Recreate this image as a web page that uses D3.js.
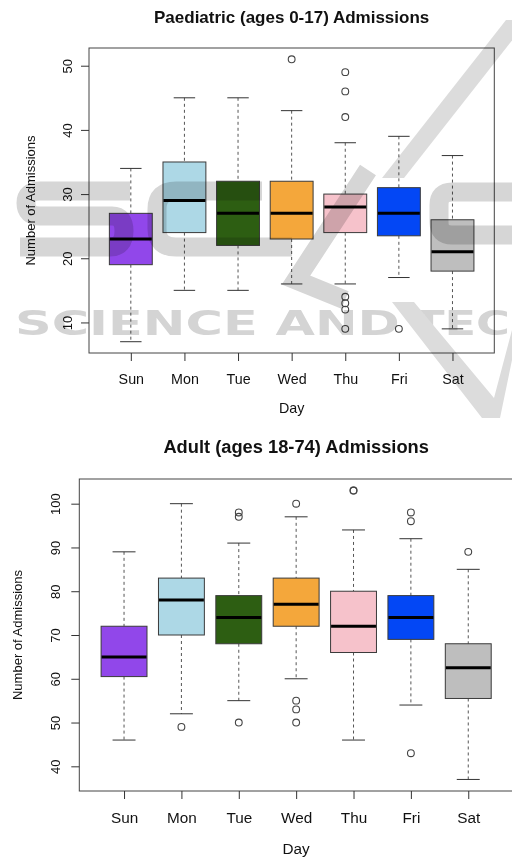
<!DOCTYPE html>
<html>
<head>
<meta charset="utf-8">
<script src="https://cdn.jsdelivr.net/npm/d3@7"></script>
<style>
  html, body { margin: 0; padding: 0; background: #fff; }
  svg { display: block; font-family: "Liberation Sans", Arial, sans-serif; }
  .wm { mix-blend-mode: multiply; }
</style>
</head>
<body>
<div id="chart"></div>
<script>
// days of the week, same for both panels
const days = ["Sun", "Mon", "Tue", "Wed", "Thu", "Fri", "Sat"];
const boxColors = ["#9147ea", "#add8e6", "#2d5e12", "#f4a73b", "#f6c2cb", "#0347f5", "#bebebe"];

// Paediatric (ages 0-17)
const paedLow    = [7, 15, 15, 16, 16, 17, 9];
const paedQ1     = [19, 24, 22, 23, 24, 23.5, 18];
const paedMedian = [23, 29, 27, 27, 28, 27, 21];
const paedQ3     = [27, 35, 32, 32, 30, 31, 26];
const paedHigh   = [34, 45, 45, 43, 38, 39, 36];
const paedOutliers = [[], [], [], [51], [49, 46, 42, 14, 13, 12, 9], [9], []];
const paedTicks  = [10, 20, 30, 40, 50];

// Adult (ages 18-74)
const adultLow    = [46, 52, 55, 60, 46, 54, 37];
const adultQ1     = [60.5, 70, 68, 72, 66, 69, 55.5];
const adultMedian = [65, 78, 74, 77, 72, 74, 62.5];
const adultQ3     = [72, 83, 79, 83, 80, 79, 68];
const adultHigh   = [89, 100, 91, 97, 94, 92, 85];
const adultOutliers = [[], [49], [98, 97, 50], [100, 55, 53, 50], [103, 103], [98, 96, 43], [89]];
const adultTicks  = [40, 50, 60, 70, 80, 90, 100];

const W = 512, H = 857;

const svg = d3.select("#chart").append("svg")
  .attr("width", W)
  .attr("height", H);

function drawPanel(opt) {
  const g = svg.append("g");
  const n = days.length;

  // R style: 4% padding around data range
  const allVals = opt.low.concat(opt.high, ...opt.outliers);
  const lo = d3.min(allVals), hi = d3.max(allVals);
  const pad = (hi - lo) * 0.04;
  const y = d3.scaleLinear().domain([lo - pad, hi + pad]).range([opt.bottom, opt.top]);
  const xpad = n * 0.04 + 0.5;
  const x = d3.scaleLinear().domain([1 - xpad, n + xpad]).range([opt.left, opt.right]);
  const unit = x(2) - x(1);
  const bw = unit * 0.8;

  // title
  g.append("text")
    .attr("x", (opt.left + opt.right) / 2)
    .attr("y", opt.titleY)
    .attr("text-anchor", "middle")
    .attr("font-weight", "bold")
    .attr("font-size", opt.titleSize)
    .attr("fill", "#111")
    .text(opt.title);

  const items = days.map((d, i) => ({
    day: d, i: i + 1, low: opt.low[i], q1: opt.q1[i], med: opt.median[i],
    q3: opt.q3[i], high: opt.high[i], out: opt.outliers[i], color: boxColors[i]
  }));

  const box = g.selectAll("g.box").data(items).join("g").attr("class", "box");

  // whiskers (dashed)
  box.append("line")
    .attr("x1", d => x(d.i)).attr("x2", d => x(d.i))
    .attr("y1", d => y(d.high)).attr("y2", d => y(d.q3))
    .attr("stroke", "#555").attr("stroke-dasharray", "3,3");
  box.append("line")
    .attr("x1", d => x(d.i)).attr("x2", d => x(d.i))
    .attr("y1", d => y(d.q1)).attr("y2", d => y(d.low))
    .attr("stroke", "#555").attr("stroke-dasharray", "3,3");
  // staples
  box.selectAll("line.staple").data(d => [d.high, d.low].map(v => ({v, i: d.i})))
    .join("line").attr("class", "staple")
    .attr("x1", d => x(d.i) - bw / 4).attr("x2", d => x(d.i) + bw / 4)
    .attr("y1", d => y(d.v)).attr("y2", d => y(d.v))
    .attr("stroke", "#333");
  // boxes
  box.append("rect")
    .attr("x", d => x(d.i) - bw / 2)
    .attr("width", bw)
    .attr("y", d => y(d.q3))
    .attr("height", d => y(d.q1) - y(d.q3))
    .attr("fill", d => d.color)
    .attr("stroke", "#3a3a3a");
  // medians
  box.append("line")
    .attr("x1", d => x(d.i) - bw / 2 + 0.5).attr("x2", d => x(d.i) + bw / 2 - 0.5)
    .attr("y1", d => y(d.med)).attr("y2", d => y(d.med))
    .attr("stroke", "#000").attr("stroke-width", 3);
  // outliers
  box.selectAll("circle").data(d => d.out.map(v => ({v, i: d.i})))
    .join("circle")
    .attr("cx", d => x(d.i)).attr("cy", d => y(d.v))
    .attr("r", 3.4)
    .attr("fill", "none").attr("stroke", "#444").attr("stroke-width", 1.1);

  // plot frame
  g.append("rect")
    .attr("x", opt.left).attr("y", opt.top)
    .attr("width", opt.right - opt.left).attr("height", opt.bottom - opt.top)
    .attr("fill", "none").attr("stroke", "#444");

  // axes
  const yAxis = g.append("g")
    .attr("transform", `translate(${opt.left},0)`)
    .call(d3.axisLeft(y).tickValues(opt.ticks).tickSize(8).tickSizeOuter(0).tickFormat(d3.format("d")));
  yAxis.select(".domain").remove();
  yAxis.selectAll(".tick line").attr("stroke", "#333");
  yAxis.selectAll(".tick text")
    .attr("x", 0).attr("y", 0).attr("dy", 0)
    .attr("transform", d => `translate(${opt.yTickX - opt.left},0) rotate(-90)`)
    .attr("text-anchor", "middle")
    .attr("font-size", opt.yTickSize)
    .attr("font-family", "Liberation Sans, Arial, sans-serif")
    .attr("fill", "#111");

  const xAxis = g.append("g")
    .attr("transform", `translate(0,${opt.bottom})`)
    .call(d3.axisBottom(x).tickValues(d3.range(1, n + 1)).tickSize(8).tickSizeOuter(0).tickFormat(i => days[i - 1]));
  xAxis.select(".domain").remove();
  xAxis.selectAll(".tick line").attr("stroke", "#333");
  xAxis.selectAll(".tick text")
    .attr("y", opt.xTickY - opt.bottom).attr("dy", 0)
    .attr("font-size", opt.xTickSize)
    .attr("font-family", "Liberation Sans, Arial, sans-serif")
    .attr("fill", "#111");

  // axis titles
  g.append("text")
    .attr("x", (opt.left + opt.right) / 2)
    .attr("y", opt.xLabelY)
    .attr("text-anchor", "middle")
    .attr("font-size", opt.xTickSize)
    .attr("fill", "#111")
    .text("Day");
  g.append("text")
    .attr("transform", `translate(${opt.yLabelX},${(opt.top + opt.bottom) / 2}) rotate(-90)`)
    .attr("text-anchor", "middle")
    .attr("font-size", opt.yLabelSize)
    .attr("fill", "#111")
    .text("Number of Admissions");
}

drawPanel({
  title: "Paediatric (ages 0-17) Admissions",
  low: paedLow, q1: paedQ1, median: paedMedian, q3: paedQ3, high: paedHigh,
  outliers: paedOutliers, ticks: paedTicks,
  left: 89, right: 494.3, top: 48, bottom: 353,
  titleY: 22.7, titleSize: 17,
  yTickX: 71.7, yTickSize: 13,
  xTickY: 384, xTickSize: 14.3,
  xLabelY: 413, yLabelX: 35, yLabelSize: 13
});

drawPanel({
  title: "Adult (ages 18-74) Admissions",
  low: adultLow, q1: adultQ1, median: adultMedian, q3: adultQ3, high: adultHigh,
  outliers: adultOutliers, ticks: adultTicks,
  left: 79.3, right: 513, top: 479, bottom: 791,
  titleY: 452.5, titleSize: 18.3,
  yTickX: 60, yTickSize: 13,
  xTickY: 822.5, xTickSize: 15.3,
  xLabelY: 854, yLabelX: 21.7, yLabelSize: 13
});

// publisher watermark, drawn over the first panel
const wm = svg.append("g").attr("class", "wm").style("pointer-events", "none");
const wmText = wm.append("text")
  .attr("font-family", "DejaVu Sans, sans-serif")
  .attr("font-weight", "bold")
  .attr("font-size", 34)
  .attr("fill", "#d4d4d4")
  .text("SCIENCE AND");
const sx = 385 / wmText.node().getComputedTextLength();
wmText.attr("transform", `translate(15,335) scale(${sx},1)`);
wm.append("text")
  .attr("x", 413).attr("y", 335)
  .attr("font-family", "DejaVu Sans, sans-serif")
  .attr("font-weight", "bold")
  .attr("font-size", 34)
  .attr("fill", "#d4d4d4")
  .attr("textLength", 97)
  .attr("lengthAdjust", "spacingAndGlyphs")
  .text("TEC");

// big logo strokes
const logo = wm.append("g").attr("fill", "none").attr("stroke", "#d6d6d6").attr("stroke-width", 19);
logo.append("path").attr("d", "M130,191 H40 Q26,191 26,203 Q26,216 40,216 H112 Q124,216 124,231 Q124,247 110,247 H20");
logo.append("path").attr("d", "M262,191 H176 Q157,191 157,209 V229 Q157,247 176,247 H292");
logo.append("path").attr("d", "M368,170 L296,280 L345,300");
logo.append("path").attr("d", "M512,192 H452 Q439,192 439,205 V222 Q439,235 452,235 H512");
wm.append("polygon").attr("points", "506,20 528,20 404,178 382,178").attr("fill", "#dcdcdc");
wm.append("polygon").attr("points", "392,302 414,302 494,398 512,330 512,360 500,418 482,418").attr("fill", "#dcdcdc");
</script>
</body>
</html>
